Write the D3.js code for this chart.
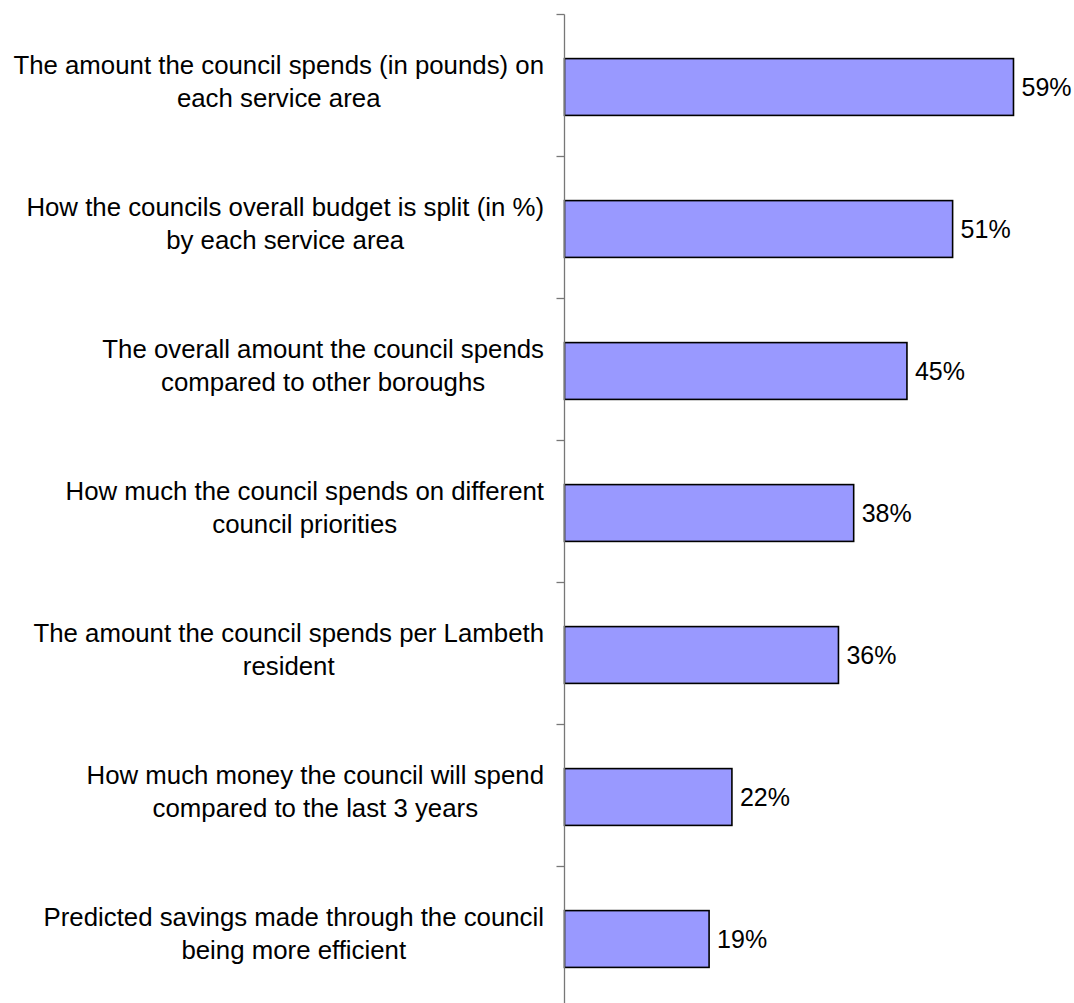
<!DOCTYPE html>
<html>
<head>
<meta charset="utf-8">
<script src="https://cdn.jsdelivr.net/npm/d3@7"></script>
<style>
  body { margin: 0; background: #fff; }
  svg text { font-family: "Liberation Sans", Arial, sans-serif; fill: #000; }
</style>
</head>
<body>
<svg id="chart" width="1074" height="1003"></svg>
<script>
// label lines as they wrap in the original
var categories = [
  ["The amount the council spends (in pounds) on", "each service area"],
  ["How the councils overall budget is split (in %)", "by each service area"],
  ["The overall amount the council spends", "compared to other boroughs"],
  ["How much the council spends on different", "council priorities"],
  ["The amount the council spends per Lambeth", "resident"],
  ["How much money the council will spend", "compared to the last 3 years"],
  ["Predicted savings made through the council", "being more efficient"]
];
var values = [59, 51, 45, 38, 36, 22, 19];
var valueLabels = ["59%", "51%", "45%", "38%", "36%", "22%", "19%"];

function drawChart() {
  var svg = d3.select("#chart"),
      x0 = 564.5,
      plotTop = 14.5,
      step = 142,
      fontSize = 25,
      catFontSize = 25.8;

  var ids = d3.range(categories.length);

  var y = d3.scaleBand()
      .domain(ids)
      .range([plotTop, plotTop + step * ids.length])
      .paddingInner(0.6)
      .paddingOuter(0.3);

  var x = d3.scaleLinear().domain([0, 100]).range([x0, x0 + 761]);

  // bars
  svg.append("g").selectAll("rect")
    .data(ids)
    .enter().append("rect")
      .attr("x", x(0))
      .attr("y", function(i) { return y(i) + 1.5; })
      .attr("width", function(i) { return x(values[i]) - x(0); })
      .attr("height", y.bandwidth())
      .attr("fill", "#9999ff")
      .attr("stroke", "#000")
      .attr("stroke-width", 1.6);

  // axis line with ticks at band boundaries
  var axis = svg.append("g").attr("stroke", "#777").attr("stroke-width", 1.3);
  axis.append("line")
      .attr("x1", x0).attr("x2", x0)
      .attr("y1", plotTop).attr("y2", plotTop + step * ids.length);
  axis.selectAll(".tick")
    .data(d3.range(ids.length + 1))
    .enter().append("line")
      .attr("x1", x0 - 8).attr("x2", x0)
      .attr("y1", function(i) { return plotTop + i * step; })
      .attr("y2", function(i) { return plotTop + i * step; });

  // value labels
  svg.append("g").selectAll("text")
    .data(ids)
    .enter().append("text")
      .attr("x", function(i) { return x(values[i]) + 8; })
      .attr("y", function(i) { return y(i) + y.bandwidth() / 2 + 10; })
      .attr("font-size", fontSize)
      .text(function(i) { return valueLabels[i]; });

  // category labels: block right-aligned, lines centered within block
  var labelRight = 544;
  svg.append("g").selectAll("g")
    .data(ids)
    .enter().append("g")
    .each(function(i) {
      var g = d3.select(this);
      var c = y(i) + y.bandwidth() / 2;
      var texts = categories[i].map(function(line, k) {
        return g.append("text")
          .attr("font-size", catFontSize)
          .attr("text-anchor", "middle")
          .attr("y", c - 11.5 + k * 33)
          .text(line);
      });
      var w = d3.max(texts, function(t) { return t.node().getComputedTextLength(); });
      texts.forEach(function(t) { t.attr("x", labelRight - w / 2); });
    });
}

drawChart();
</script>
</body>
</html>
